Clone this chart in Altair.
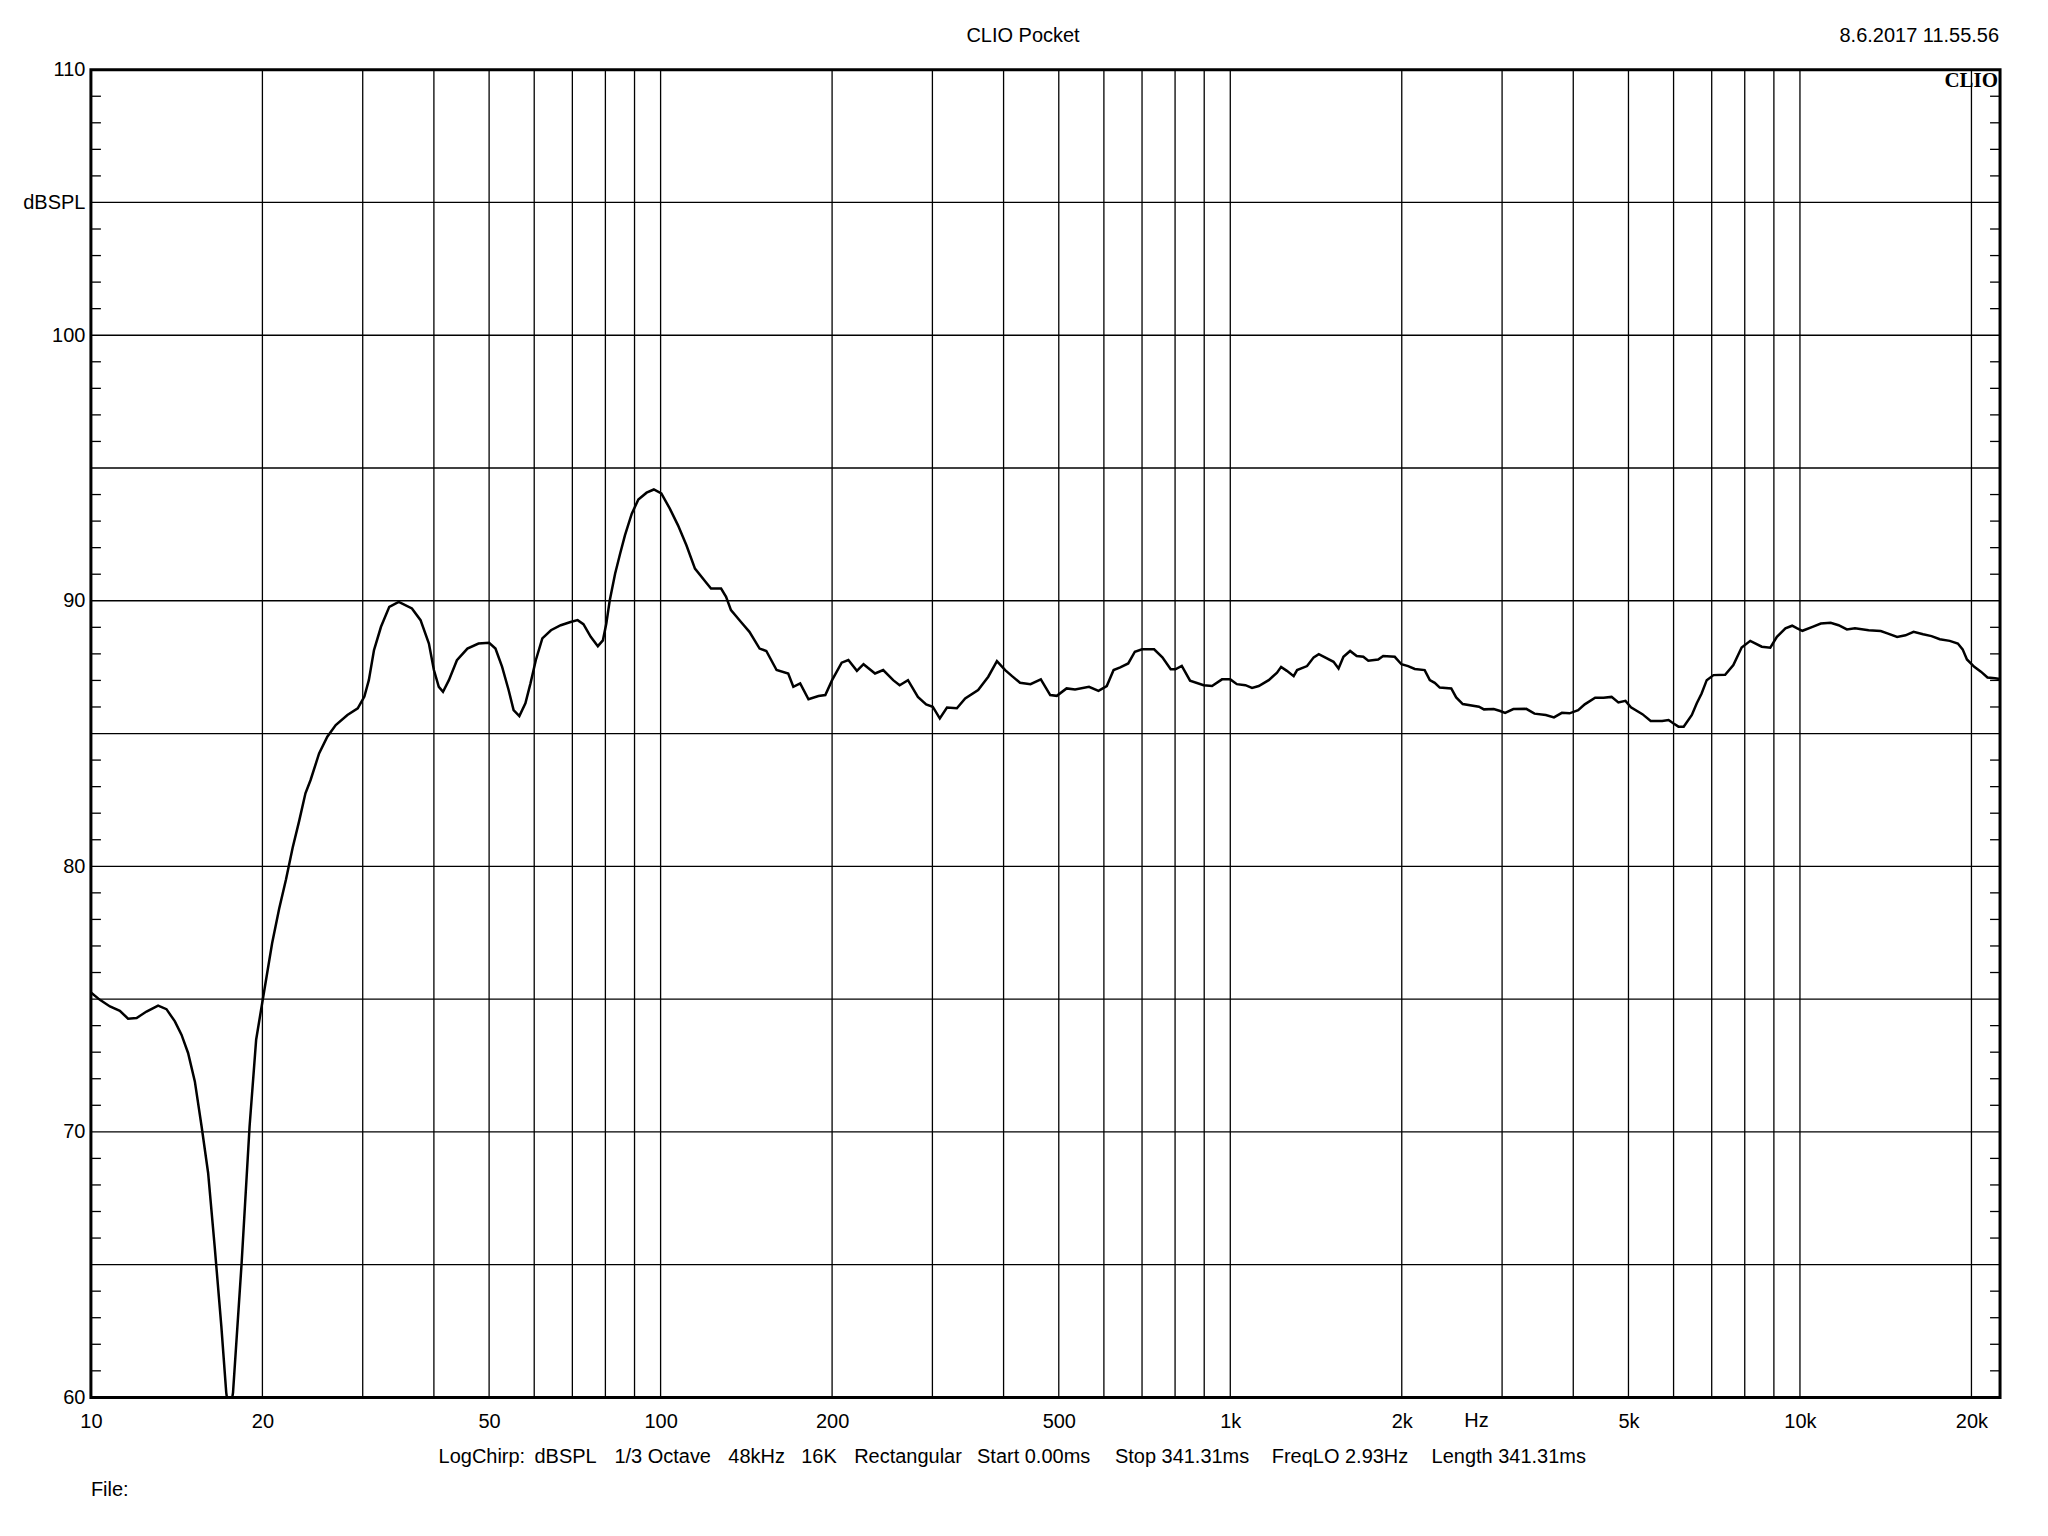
import altair as alt
import pandas as pd

# ---------------- data ----------------
freq_hz = [10, 10.37, 10.8, 11.24, 11.62, 12.03, 12.52, 13.12, 13.57, 14.04, 14.42, 14.81,
           15.22, 15.64, 16.06, 16.49, 16.94, 17.28, 17.5, 17.76, 18.39, 18.99, 19.5, 20.0,
           20.8, 21.4, 22.0, 22.6, 23.2, 23.8, 24.3, 25.15, 26.0, 26.9, 28.2, 29.4, 30.2,
           30.75, 31.4, 32.3, 33.4, 34.7, 36.6, 37.9, 39.2, 40.0, 40.8, 41.5, 42.5, 43.9,
           45.8, 47.9, 50.0, 51.3, 52.7, 54.1, 55.2, 56.5, 57.9, 59.1, 60.4, 62.0, 64.2,
           66.8, 69.5, 71.5, 73.2, 75.4, 77.6, 79.2, 80.3, 81.4, 83.2, 84.9, 86.6, 89.0,
           91.4, 94.5, 97.3, 100.3, 103.8, 107.3, 111.0, 114.9, 120.0, 122.6, 127.7, 130.3,
           132.9, 138.4, 143.2, 149.2, 153.3, 159.8, 167.5, 171, 175.8, 181.8, 189.3, 194.6,
           200, 207.9, 213.6, 221.1, 227.1, 237.9, 245.9, 256, 262.8, 271.8, 282.9, 292.5,
           300.4, 309.1, 318.2, 331.2, 342.5, 360.9, 376, 389.4, 402.6, 414, 427.5, 446,
           465, 483, 496, 516, 534, 565, 587, 607, 624, 641, 662, 680, 700, 735, 760, 786,
           801, 822, 850, 898, 929, 967, 1000, 1027, 1063, 1092, 1122, 1168, 1208, 1228,
           1257, 1292, 1310, 1364, 1401, 1430, 1478, 1518, 1549, 1580, 1623, 1667, 1712,
           1747, 1818, 1855, 1944, 1997, 2052, 2108, 2194, 2240, 2285, 2332, 2443, 2492,
           2559, 2732, 2788, 2900, 2977, 3037, 3140, 3308, 3420, 3580, 3700, 3820, 3940,
           4080, 4190, 4370, 4520, 4670, 4800, 4940, 5050, 5290, 5470, 5730, 5880, 6000,
           6120, 6250, 6460, 6590, 6720, 6860, 7050, 7390, 7640, 7900, 8180, 8570, 8870,
           9110, 9430, 9690, 9890, 10100, 10520, 10880, 11320, 11690, 12090, 12490, 13200,
           13860, 14240, 14810, 15320, 15830, 16450, 17020, 17600, 18320, 18930, 19300,
           19640, 20230, 20780, 21340, 22000, 22450]
spl_db = [75.25, 74.97, 74.72, 74.56, 74.26, 74.29, 74.53, 74.75, 74.62, 74.16, 73.66, 72.97,
          71.90, 70.21, 68.45, 65.69, 62.68, 60.18, 59.3, 60.18, 65.07, 70.21, 73.47, 74.9,
          77.1, 78.4, 79.5, 80.7, 81.7, 82.75, 83.25, 84.25, 84.88, 85.32, 85.70, 85.95, 86.39,
          87.01, 88.14, 89.02, 89.77, 89.96, 89.71, 89.27, 88.39, 87.39, 86.76, 86.57, 87.01, 87.76,
          88.20, 88.39, 88.42, 88.20, 87.51, 86.64, 85.88, 85.66, 86.14, 86.89, 87.77, 88.58, 88.89,
          89.08, 89.20, 89.27, 89.12, 88.64, 88.29, 88.51, 89.14, 90.0, 91.02, 91.77, 92.47, 93.28,
          93.81, 94.07, 94.19, 94.04, 93.47, 92.84, 92.09, 91.21, 90.71, 90.46, 90.46, 90.15,
          89.65, 89.20, 88.83, 88.20, 88.11, 87.39, 87.26, 86.76, 86.89, 86.29, 86.41, 86.45,
          87.01, 87.67, 87.77, 87.36, 87.61, 87.26, 87.39, 87.01, 86.82, 87.01, 86.38, 86.10,
          86.01, 85.57, 85.98, 85.95, 86.32, 86.64, 87.14, 87.73, 87.39, 87.16, 86.91, 86.86,
          87.04, 86.45, 86.42, 86.70, 86.66, 86.76, 86.61, 86.79, 87.39, 87.49, 87.64, 88.08, 88.17, 88.17, 87.87, 87.42,
          87.42, 87.55, 86.99, 86.82, 86.79, 87.04, 87.04, 86.86, 86.82, 86.72, 86.79, 87.01, 87.29, 87.51,
          87.36, 87.16, 87.39, 87.54, 87.87, 87.99, 87.83, 87.70, 87.45, 87.89, 88.11, 87.92, 87.89,
          87.74, 87.79, 87.92, 87.89, 87.61, 87.54, 87.43, 87.39, 87.01, 86.91, 86.73, 86.70, 86.36,
          86.11, 86.01, 85.91, 85.92, 85.85, 85.78, 85.92, 85.93, 85.75, 85.70, 85.61, 85.78, 85.76,
          85.88, 86.10, 86.35, 86.35, 86.38, 86.17, 86.23, 85.99, 85.73, 85.47, 85.47, 85.51, 85.38,
          85.26, 85.26, 85.70, 86.14, 86.51, 87.01, 87.20, 87.21, 87.58, 88.24, 88.49, 88.27, 88.23,
          88.64, 88.96, 89.06, 88.96, 88.87, 89.02, 89.14, 89.17, 89.08, 88.92, 88.96, 88.89,
          88.86, 88.77, 88.64, 88.70, 88.83, 88.74, 88.67, 88.55, 88.49, 88.39, 88.17,
          87.79, 87.51, 87.33, 87.11, 87.08, 87.05]

grid_freqs = [20, 30, 40, 50, 60, 70, 80, 90, 100, 200, 300, 400, 500, 600, 700, 800, 900,
              1000, 2000, 3000, 4000, 5000, 6000, 7000, 8000, 9000, 10000, 20000]
grid_db = [65, 70, 75, 80, 85, 90, 95, 100, 105]
minor_db = [v for v in range(61, 110) if v % 5 != 0]
x_label_values = [10, 20, 50, 100, 200, 500, 1000, 2000, 5000, 10000, 20000]
y_label_values = [60, 70, 80, 90, 100, 105, 110]

title_text = "CLIO Pocket"
date_text = "8.6.2017 11.55.56"
brand_text = "CLIO"
unit_text = "Hz"
file_text = "File:"
info_texts = ["LogChirp:", "dBSPL", "1/3 Octave", "48kHz", "16K", "Rectangular",
              "Start 0.00ms", "Stop 341.31ms", "FreqLO 2.93Hz", "Length 341.31ms"]
# layout (pixel offsets from plot-area origin)
info_x = [348, 444, 524, 638, 711, 764, 887, 1025, 1182, 1342]

W, H = 1911, 1329
FONT = "Liberation Sans"
FS = 20

xscale = alt.Scale(type="log", domain=[10, 22450], nice=False)
yscale = alt.Scale(domain=[60, 110], nice=False, zero=False)

curve_df = pd.DataFrame({"f": freq_hz, "db": spl_db})

xaxis = alt.Axis(values=x_label_values, labelExpr="datum.value >= 1000 ? (datum.value/1000) + 'k' : datum.label",
                 grid=False, ticks=False, tickSize=0, domain=False, labelFont=FONT, labelFontSize=FS,
                 labelColor="black", labelPadding=24, labelBaseline="middle", title=None,
                 labelFlush=False, labelOverlap=False)
yaxis = alt.Axis(values=y_label_values, labelExpr="datum.value == 105 ? 'dBSPL' : datum.label",
                 grid=False, ticks=False, tickSize=0, domain=False, labelFont=FONT, labelFontSize=FS,
                 labelColor="black", labelPadding=6, title=None, labelFlush=False, labelOverlap=False)

vgrid = alt.Chart(pd.DataFrame({"f": grid_freqs})).mark_rule(color="black", strokeWidth=1.3).encode(
    x=alt.X("f:Q", scale=xscale, axis=xaxis))
hgrid = alt.Chart(pd.DataFrame({"db": grid_db})).mark_rule(color="black", strokeWidth=1.3).encode(
    y=alt.Y("db:Q", scale=yscale, axis=yaxis))
minor_left = alt.Chart(pd.DataFrame({"db": minor_db})).mark_rule(color="black", strokeWidth=1.3).encode(
    y="db:Q", x=alt.value(0), x2=alt.value(10))
minor_right = alt.Chart(pd.DataFrame({"db": minor_db})).mark_rule(color="black", strokeWidth=1.3).encode(
    y="db:Q", x=alt.value(W - 10), x2=alt.value(W))

curve = alt.Chart(curve_df).mark_line(color="black", strokeWidth=2.5, clip=True).encode(
    x="f:Q", y="db:Q")


def label(txt, x, y, align="left", font=FONT, size=FS, weight="normal", baseline="middle"):
    return alt.Chart(pd.DataFrame({"t": [txt]})).mark_text(
        font=font, fontSize=size, fontWeight=weight, align=align, baseline=baseline,
        color="black").encode(text="t:N", x=alt.value(x), y=alt.value(y))


texts = [
    label(title_text, 933, -34, align="center"),
    label(date_text, 1910, -34, align="right"),
    label(brand_text, 1909, 17, align="right", font="Liberation Serif", size=21, weight="bold",
          baseline="alphabetic"),
    label(unit_text, 1387, 1353, align="center"),
    label(file_text, 0, 1422),
]
for t, x in zip(info_texts, info_x):
    texts.append(label(t, x, 1389))

chart = alt.layer(vgrid, hgrid, minor_left, minor_right, curve, *texts).properties(
    width=W, height=H,
    autosize=alt.AutoSizeParams(type="none"),
    padding={"left": 83, "top": 61, "right": 40, "bottom": 130},
    background="white",
).configure_view(stroke="black", strokeWidth=3)

chart.save("out.html", embed_options={"renderer": "svg", "actions": False})
